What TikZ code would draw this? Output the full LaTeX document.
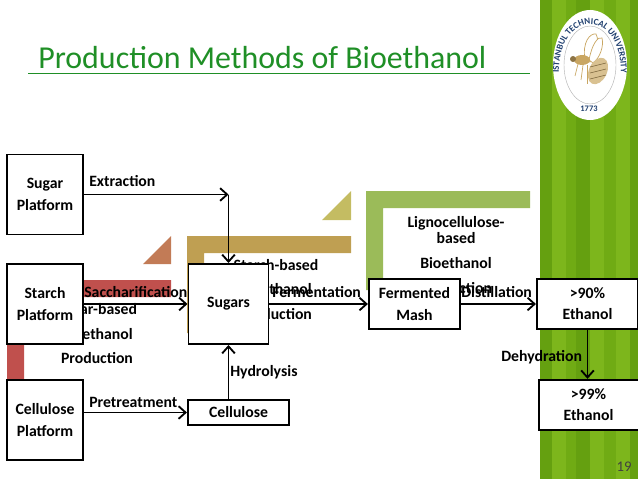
\documentclass[tikz,border=0pt]{standalone}
\usepackage{fontspec}
\setmainfont{Carlito}
\usetikzlibrary{arrows.meta,decorations.text}
\definecolor{stripA}{HTML}{70AB14}
\definecolor{stripB}{HTML}{7DB61C}
\definecolor{stripC}{HTML}{65A010}
\definecolor{titlegreen}{HTML}{1F8F26}
\definecolor{redbar}{HTML}{C0504D}
\definecolor{redtri}{HTML}{C27B56}
\definecolor{goldbar}{HTML}{BF9F52}
\definecolor{goldtri}{HTML}{C4BC62}
\definecolor{greenbar}{HTML}{9BBB59}
\definecolor{sealblue}{HTML}{1F3F6F}
\definecolor{beetan}{HTML}{C9A662}
\tikzset{
  platform/.style={draw,fill=white,line width=1.3pt,minimum width=54pt,minimum height=57pt,align=center,font=\bfseries\fontsize{11.2}{16}\selectfont},
  procbox/.style={draw,fill=white,line width=1.3pt,align=center,font=\bfseries\fontsize{11.2}{15}\selectfont},
  steplabel/.style={font=\bfseries\fontsize{11.2}{12}\selectfont,inner sep=0pt},
  backtext/.style={font=\bfseries\fontsize{11.2}{12}\selectfont,inner sep=0pt,align=center},
  flow/.style={draw,line width=1.3pt,-{Straight Barb[length=5pt,width=9pt]}}
}
\begin{document}
\begin{tikzpicture}[x=0.025cm,y=-0.025cm]
\useasboundingbox (0,0) rectangle (638,479);

% green side strip
\fill[stripA] (540,0) rectangle (638,479);
\foreach \xa/\xb/\stripcol in {540/552/stripC,552/566/stripB,566/576/stripA,576/590/stripC,590/604/stripB,604/616/stripA,616/630/stripB,630/638/stripC}
  \fill[\stripcol] (\xa,0) rectangle (\xb,479);

% seal
\fill[white] (590,65) ellipse (37 and 55);
\draw[gray!60,line width=0.3pt] (590,65) ellipse (26 and 39);
\path[decorate,decoration={text along path,text align=center,
  text={|\fontsize{6.4}{7}\bfseries\color{sealblue}|ISTANBUL TECHNICAL UNIVERSITY}}]
  (560,88) .. controls (549,3) and (631,3) .. (620,88);
\node[font=\fontsize{6}{7}\bfseries\color{sealblue},inner sep=0pt] (sealyear) at (589,109) {1773};
% bee
\draw[beetan,fill=white,line width=0.5pt] (585,60) .. controls (582,42) and (590,33) .. (596,34) .. controls (600,42) and (597,55) .. (590,62) -- cycle;
\draw[beetan,fill=white,line width=0.5pt] (589,60) .. controls (592,44) and (598,36) .. (602,38) .. controls (604,46) and (600,58) .. (593,63) -- cycle;
\fill[beetan!70!white,rotate around={-25:(598,71)}] (598,71) ellipse (9 and 14);
\foreach \ys in {65,71,77}
  \draw[beetan!60!black,line width=0.4pt] (590,\ys+2) -- (606,\ys-2);
\fill[beetan] (582,60) ellipse (8 and 5);
\fill[beetan!70!black] (573,59) circle (3);
\draw[beetan,line width=0.5pt] (578,64) -- (575,76);
\draw[beetan,line width=0.5pt] (583,65) -- (581,80);
\draw[beetan,line width=0.5pt] (587,65) -- (587,84);

% title
\node[font=\fontsize{22.7}{26}\selectfont,text=titlegreen,inner sep=0pt,anchor=base west] (title) at (38,69) {Production Methods of Bioethanol};
\coordinate (ruleL) at (28,73);
\coordinate (ruleR) at (530,73);
\draw[titlegreen,line width=0.7pt] (ruleL) -- (ruleR);

% background bands
\fill[redbar] (7,280) -- (171,280) -- (171,297) -- (24,297) -- (24,380) -- (7,380) -- cycle;
\fill[redtri] (143,264) -- (171,236) -- (171,264) -- cycle;
\fill[goldbar] (187,236) -- (351,236) -- (351,253) -- (204,253) -- (204,333) -- (187,333) -- cycle;
\fill[goldtri] (322,220) -- (351,191) -- (351,220) -- cycle;
\fill[greenbar] (366,191) -- (530,191) -- (530,208) -- (383,208) -- (383,290) -- (366,290) -- cycle;

% text behind the boxes
\node[backtext] (sugartext) at (97,310) {Sugar-based};
\node[backtext] (sugartextb) at (97,334) {Bioethanol};
\node[backtext] (sugartextc) at (97,358) {Production};
\node[backtext] (starchtext) at (276,265) {Starch-based};
\node[backtext] (starchtextb) at (276,289) {Bioethanol};
\node[backtext] (starchtextc) at (276,314) {Production};
\node[backtext] (lignotext) at (456,230) {Lignocellulose-\\based};
\node[backtext] (lignotextb) at (456,263) {Bioethanol};
\node[backtext] (lignotextc) at (456,288) {Production};

% boxes
\node[platform] (sugarp) at (45,194.5) {Sugar\\Platform};
\node[platform] (starchp) at (45,304) {Starch\\Platform};
\node[platform] (cellp) at (45,420) {Cellulose\\Platform};
\node[procbox,minimum width=57pt,minimum height=57pt] (sugars) at (228.5,304) {Sugars};
\node[procbox,minimum width=72pt,minimum height=18pt,inner sep=0pt] (cellulose) at (238.5,412.5) {Cellulose};
\node[procbox,minimum width=65pt,minimum height=36pt,inner sep=0pt] (mash) at (414.5,304) {Fermented\\Mash};
\node[procbox,minimum width=72pt,minimum height=36pt,inner sep=0pt] (ninety) at (587.5,304) {>90\%\\Ethanol};
\node[procbox,minimum width=71pt,minimum height=36pt,inner sep=0pt] (ninetynine) at (588.5,405) {>99\%\\Ethanol};

% connectors
\coordinate (bend) at (sugars.north |- sugarp.east);
\draw[flow] (sugarp.east) -- (bend);
\draw[flow] (bend) -- (sugars.north);
\draw[flow] (starchp) -- (sugars);
\draw[flow] (sugars) -- (mash);
\draw[flow] (mash) -- (ninety);
\draw[flow] (ninety.south) -- (ninety.south |- ninetynine.north);
\draw[flow] (cellp.east |- cellulose.west) -- (cellulose.west);
\draw[flow] (cellulose.north -| sugars.south) -- (sugars.south);

% step labels
\node[steplabel,anchor=west] (extraction) at (89,181) {Extraction};
\node[steplabel,anchor=west] (saccharification) at (84,292) {Saccharification};
\node[steplabel,anchor=west] (fermentation) at (272,292) {Fermentation};
\node[steplabel,anchor=west] (distillation) at (461,292) {Distillation};
\node[steplabel,anchor=west] (dehydration) at (501,357) {Dehydration};
\node[steplabel,anchor=west] (hydrolysis) at (230,372) {Hydrolysis};
\node[steplabel,anchor=west] (pretreatment) at (89,402) {Pretreatment};

\node[font=\fontsize{10.5}{12}\selectfont,text=black!75,inner sep=0pt] (pagenum) at (624,467) {19};
\end{tikzpicture}
\end{document}
